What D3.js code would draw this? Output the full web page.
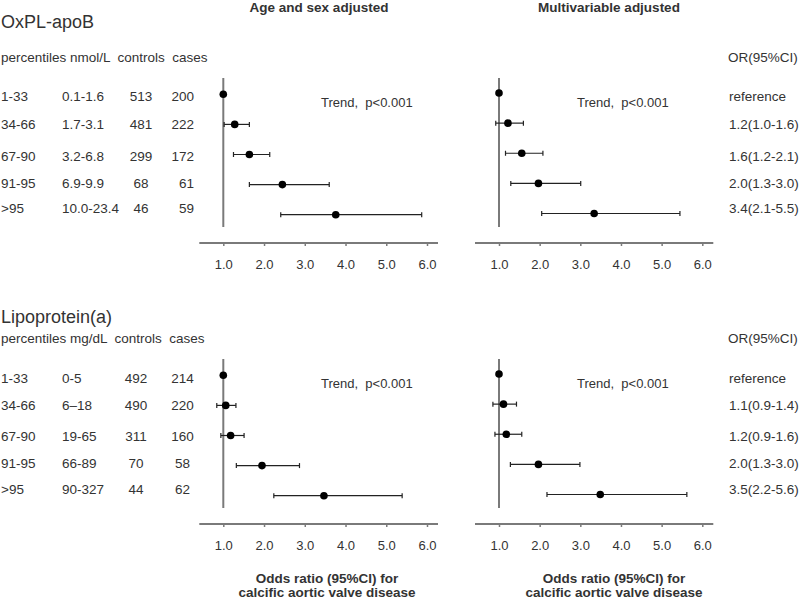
<!DOCTYPE html>
<html>
<head>
<meta charset="utf-8">
<script src="https://cdn.jsdelivr.net/npm/d3@7"></script>
<style>
  body { margin: 0; background: #fff; }
  svg { display: block; font-family: "Liberation Sans", Arial, sans-serif; }
  text { white-space: pre; }
</style>
</head>
<body>
<svg id="chart" width="800" height="600"></svg>
<script>
// ---- Data ----
const percentiles = ["1-33", "34-66", "67-90", "91-95", ">95"];

const oxplRanges = ["0.1-1.6", "1.7-3.1", "3.2-6.8", "6.9-9.9", "10.0-23.4"];
const oxplControls = [513, 481, 299, 68, 46];
const oxplCases = [200, 222, 172, 61, 59];
const oxplAgeOR = [1.0, 1.28, 1.64, 2.45, 3.76];
const oxplAgeLo = [null, 1.02, 1.25, 1.64, 2.41];
const oxplAgeHi = [null, 1.64, 2.14, 3.60, 5.87];
const oxplMultiOR = [1.0, 1.22, 1.56, 1.97, 3.34];
const oxplMultiLo = [null, 0.92, 1.16, 1.29, 2.05];
const oxplMultiHi = [null, 1.60, 2.08, 3.01, 5.45];
const oxplORLabels = ["reference", "1.2(1.0-1.6)", "1.6(1.2-2.1)", "2.0(1.3-3.0)", "3.4(2.1-5.5)"];

const lpaRanges = ["0-5", "6\u201318", "19-65", "66-89", "90-327"];
const lpaControls = [492, 490, 311, 70, 44];
const lpaCases = [214, 220, 160, 58, 62];
const lpaAgeOR = [1.0, 1.06, 1.18, 1.95, 3.47];
const lpaAgeLo = [null, 0.84, 0.94, 1.32, 2.24];
const lpaAgeHi = [null, 1.31, 1.51, 2.87, 5.39];
const lpaMultiOR = [1.0, 1.11, 1.18, 1.97, 3.49];
const lpaMultiLo = [null, 0.85, 0.90, 1.28, 2.18];
const lpaMultiHi = [null, 1.43, 1.56, 2.99, 5.62];
const lpaORLabels = ["reference", "1.1(0.9-1.4)", "1.2(0.9-1.6)", "2.0(1.3-3.0)", "3.5(2.2-5.6)"];

const tickValues = [1, 2, 3, 4, 5, 6];
const tickLabels = ["1.0", "2.0", "3.0", "4.0", "5.0", "6.0"];
const trendLabel = "Trend,  p<0.001";

// ---- Drawing ----
const svg = d3.select("#chart");
const TXT = "#333";
const GRAY = "#7a7a7a";

const xLeft = d3.scaleLinear().domain([1, 6]).range([223.3, 427]);
const xRight = d3.scaleLinear().domain([1, 6]).range([499, 702.3]);

function text(x, y, s, opts = {}) {
  return svg.append("text")
    .attr("x", x).attr("y", y)
    .attr("dy", "0.35em")
    .attr("text-anchor", opts.anchor || "start")
    .attr("font-size", opts.size || 13.5)
    .attr("font-weight", opts.bold ? "bold" : "normal")
    .attr("fill", TXT)
    .text(s);
}

text(319, 7, "Age and sex adjusted", { anchor: "middle", bold: true, size: 13.5 });
text(609, 7, "Multivariable adjusted", { anchor: "middle", bold: true, size: 13.5 });

function forestPanel(x, or, lo, hi, yDots, lineTop, lineBottom, axisY, trendX, trendY) {
  const g = svg.append("g");
  g.append("line")
    .attr("x1", x(1)).attr("x2", x(1))
    .attr("y1", lineTop).attr("y2", lineBottom)
    .attr("stroke", GRAY).attr("stroke-width", 2);
  const axis = d3.axisBottom(x).tickValues(tickValues)
    .tickFormat((d, i) => tickLabels[i]).tickSizeInner(4).tickSizeOuter(0).tickPadding(14);
  const ag = g.append("g").attr("transform", `translate(0,${axisY - 1})`).call(axis);
  ag.select(".domain").remove();
  ag.selectAll(".tick line").attr("stroke", GRAY).attr("stroke-width", 1.5);
  ag.selectAll(".tick text").attr("fill", TXT).attr("font-size", 13)
    .attr("font-family", "'Liberation Sans', Arial, sans-serif");
  g.append("line")
    .attr("x1", x(1) - 24).attr("x2", x(6) + 11)
    .attr("y1", axisY).attr("y2", axisY)
    .attr("stroke", GRAY).attr("stroke-width", 2);
  or.forEach((v, i) => {
    const y = yDots(i);
    if (lo[i] != null) {
      g.append("line").attr("x1", x(lo[i])).attr("x2", x(hi[i]))
        .attr("y1", y).attr("y2", y).attr("stroke", "#222").attr("stroke-width", 1.2);
      [lo[i], hi[i]].forEach(e => {
        g.append("line").attr("x1", x(e)).attr("x2", x(e))
          .attr("y1", y - 2.5).attr("y2", y + 2.5).attr("stroke", "#222").attr("stroke-width", 1.2);
      });
    }
    g.append("circle").attr("cx", x(v)).attr("cy", y).attr("r", 3.8).attr("fill", "#000");
  });
  text(trendX, trendY, trendLabel, { size: 13 });
}

function block(opts) {
  const { top, title, header, ranges, controls, cases, ageOR, ageLo, ageHi,
          multiOR, multiLo, multiHi, orLabels, textRows, controlsX, casesX, casesAnchor, titleY } = opts;
  text(1, titleY, title, { size: 18 });
  text(1, top + 57, header, {});
  text(728, top + 57, "OR(95%CI)", {});

  textRows.forEach((dy, i) => {
    const y = top + dy;
    text(1, y, percentiles[i]);
    text(62, y, ranges[i]);
    text(controlsX, y, controls[i], { anchor: "middle" });
    text(casesX, y, cases[i], { anchor: casesAnchor });
    text(729, y, orLabels[i]);
  });

  const yL = d3.scalePoint().domain(d3.range(5)).range([top + 94.3, top + 214.7]);
  const yR = d3.scalePoint().domain(d3.range(5)).range([top + 93, top + 213.5]);
  forestPanel(xLeft, ageOR, ageLo, ageHi, yL, top + 78, top + 227, top + 243, 321, top + 102);
  forestPanel(xRight, multiOR, multiLo, multiHi, yR, top + 78, top + 227, top + 243, 577, top + 102);
}

block({
  top: 0, titleY: 22, title: "OxPL-apoB", header: "percentiles nmol/L  controls  cases",
  ranges: oxplRanges, controls: oxplControls, cases: oxplCases,
  ageOR: oxplAgeOR, ageLo: oxplAgeLo, ageHi: oxplAgeHi,
  multiOR: oxplMultiOR, multiLo: oxplMultiLo, multiHi: oxplMultiHi,
  orLabels: oxplORLabels, textRows: [96, 124, 156, 183, 208.5],
  controlsX: 141, casesX: 194, casesAnchor: "end"
});

block({
  top: 281, titleY: 317, title: "Lipoprotein(a)", header: "percentiles mg/dL  controls  cases",
  ranges: lpaRanges, controls: lpaControls, cases: lpaCases,
  ageOR: lpaAgeOR, ageLo: lpaAgeLo, ageHi: lpaAgeHi,
  multiOR: lpaMultiOR, multiLo: lpaMultiLo, multiHi: lpaMultiHi,
  orLabels: lpaORLabels, textRows: [97, 124, 155, 182, 208.5],
  controlsX: 136, casesX: 182.5, casesAnchor: "middle"
});

text(327, 578, "Odds ratio (95%CI) for", { anchor: "middle", bold: true, size: 13.5 });
text(327, 592, "calcific aortic valve disease", { anchor: "middle", bold: true, size: 13.5 });
text(614, 578, "Odds ratio (95%CI) for", { anchor: "middle", bold: true, size: 13.5 });
text(614, 592, "calcific aortic valve disease", { anchor: "middle", bold: true, size: 13.5 });
</script>
</body>
</html>
